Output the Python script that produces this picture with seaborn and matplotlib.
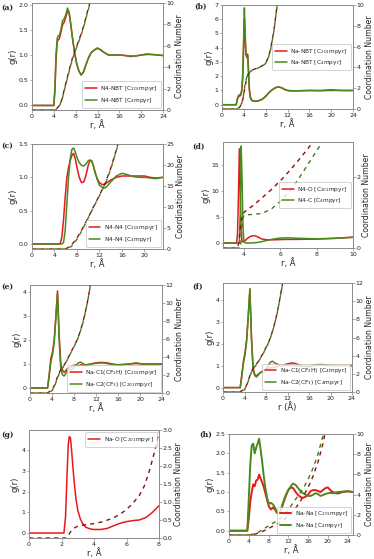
import matplotlib
matplotlib.use("Agg")
import matplotlib.pyplot as plt
import seaborn as sns

sns.set_style("ticks")
plt.rcParams['font.family'] = ['DejaVu Sans']

RED = '#e8191c'
GREEN = '#4a8a1c'
DRED = '#8b1010'
DGREEN = '#3f7d18'

# ---------------- data ----------------
# (a) N4-NBT
a_r = [0, 4.0, 4.2, 4.4, 4.6, 4.8, 5.0, 5.3, 5.6, 5.9, 6.2, 6.5, 6.8, 7.1, 7.4, 7.8, 8.2, 8.6, 9.0, 9.4,
       9.8, 10.3, 10.8, 11.4, 12.0, 12.6, 13.2, 14.0, 15.0, 16.0, 17.0, 18.0, 19.0, 20.0, 21.0, 22.0, 23.0, 24.0]
a_g201 = [0, 0, 0.3, 0.9, 1.25, 1.3, 1.32, 1.45, 1.6, 1.65, 1.75, 1.88, 1.82, 1.6, 1.35, 1.05, 0.82, 0.68, 0.61, 0.66,
          0.78, 0.93, 1.04, 1.1, 1.13, 1.1, 1.05, 1.0, 1.0, 1.0, 0.99, 0.97, 0.98, 1.0, 1.01, 1.01, 1.0, 0.99]
a_g4 = [0, 0, 0.35, 1.0, 1.32, 1.38, 1.38, 1.5, 1.68, 1.72, 1.8, 1.93, 1.85, 1.62, 1.35, 1.05, 0.82, 0.68, 0.6, 0.65,
        0.78, 0.93, 1.04, 1.1, 1.14, 1.1, 1.05, 1.0, 1.0, 1.0, 0.99, 0.98, 0.98, 1.0, 1.02, 1.01, 1.0, 0.99]
a_cn_r = [0, 4.3, 5.0, 5.5, 6.0, 6.5, 7.0, 7.5, 8.0, 8.5, 9.0, 9.5, 10.0, 10.6, 11.0]
a_cn201 = [0, 0, 0.4, 1.0, 2.1, 3.1, 4.1, 5.0, 5.7, 6.4, 7.1, 7.9, 8.9, 10.0, 10.8]
a_cn4 = [0, 0, 0.35, 0.95, 2.0, 3.0, 4.0, 4.9, 5.6, 6.3, 7.0, 7.8, 8.8, 9.9, 10.7]

# (b) Na-NBT
b_r = [0, 2.6, 2.8, 3.0, 3.2, 3.4, 3.6, 3.8, 3.95, 4.1, 4.25, 4.4, 4.55, 4.7, 4.85, 5.0, 5.2, 5.5, 5.8, 6.2,
       6.8, 7.4, 8.0, 8.6, 9.2, 9.8, 10.4, 11.0, 11.6, 12.2, 13.0, 14.0, 16.0, 18.0, 20.0, 22.0, 24.0]
b_g201 = [0, 0, 0.35, 0.55, 0.6, 0.65, 0.9, 1.8, 3.8, 6.0, 4.5, 3.5, 3.4, 3.55, 2.5, 1.2, 0.55, 0.3, 0.27, 0.25,
          0.3, 0.4, 0.6, 0.85, 1.05, 1.2, 1.25, 1.18, 1.05, 0.98, 0.97, 0.98, 1.0, 1.0, 1.05, 1.0, 1.0]
b_g4 = [0, 0, 0.4, 0.65, 0.7, 0.72, 1.0, 2.2, 4.5, 6.8, 5.0, 3.5, 3.3, 3.4, 2.3, 1.0, 0.45, 0.28, 0.25, 0.23,
        0.28, 0.38, 0.58, 0.85, 1.05, 1.2, 1.25, 1.18, 1.05, 1.0, 0.98, 0.98, 1.0, 0.98, 1.0, 1.0, 1.0]
b_cn_r = [0, 2.8, 3.2, 3.6, 3.9, 4.2, 4.5, 4.8, 5.2, 5.6, 6.0, 6.5, 7.0, 7.5, 8.0, 8.5, 8.9, 9.5, 10.1, 10.5]
b_cn201 = [0, 0, 0.15, 0.5, 1.1, 2.1, 2.9, 3.35, 3.6, 3.75, 3.85, 3.95, 4.05, 4.2, 4.4, 5.0, 5.75, 7.5, 10.0, 11.8]
b_cn4 = [0, 0, 0.18, 0.55, 1.2, 2.3, 3.0, 3.4, 3.6, 3.72, 3.82, 3.92, 4.02, 4.17, 4.38, 4.95, 5.7, 7.45, 9.95, 11.7]

# (c) N4-N4
c_r = [0, 5.0, 5.3, 5.6, 5.9, 6.2, 6.5, 6.8, 7.1, 7.4, 7.7, 8.0, 8.4, 8.8, 9.2, 9.6, 10.0, 10.3, 10.6, 10.9,
       11.2, 11.6, 12.0, 12.5, 13.0, 13.5, 14.0, 15.0, 16.0, 17.0, 18.0, 19.0, 20.0, 21.0, 22.0, 23.3]
c_g201 = [0, 0, 0.1, 0.35, 0.7, 1.0, 1.15, 1.25, 1.33, 1.36, 1.28, 1.15, 1.0, 0.92, 0.93, 1.03, 1.18, 1.25, 1.25, 1.18,
          1.08, 0.98, 0.92, 0.89, 0.9, 0.93, 0.96, 1.0, 1.02, 1.02, 1.02, 1.02, 1.02, 1.0, 0.99, 1.0]
c_g4 = [0, 0, 0, 0.02, 0.2, 0.6, 1.0, 1.28, 1.42, 1.44, 1.38, 1.3, 1.22, 1.18, 1.17, 1.2, 1.25, 1.26, 1.25, 1.18,
        1.08, 0.97, 0.88, 0.85, 0.84, 0.88, 0.93, 1.02, 1.06, 1.04, 1.01, 1.0, 1.0, 0.99, 0.98, 1.0]
c_cn_r = [0, 6.0, 7.0, 8.0, 9.0, 10.0, 11.0, 12.0, 13.0, 14.0, 15.0, 15.5]
c_cn201 = [0, 0, 0.9, 2.6, 4.9, 7.5, 10.2, 12.8, 15.6, 19.2, 23.6, 26.0]
c_cn4 = [0, 0, 0.6, 2.3, 4.7, 7.4, 10.1, 12.7, 15.4, 19.0, 23.4, 25.8]

# (d) N4-O / N4-C
d_r201 = [2.85, 3.6, 3.65, 3.7, 3.75, 3.8, 3.85, 3.9, 3.95, 4.05, 4.2, 4.35, 4.5, 4.65, 4.8, 5.0, 5.3, 5.7, 6.2,
          7.0, 8.0, 9.0, 10.0]
d_g201 = [0, 0, 2, 9, 18, 10, 2, 0.3, 0.2, 0.4, 0.9, 1.25, 1.4, 1.35, 1.1, 0.75, 0.6, 0.62, 0.68, 0.7, 0.75, 0.9, 1.1]
d_r4 = [2.85, 3.75, 3.8, 3.85, 3.9, 3.95, 4.0, 4.1, 4.3, 4.6, 4.9, 5.2, 5.6, 6.0, 6.4, 7.0, 8.0, 9.0, 10.0]
d_g4 = [0, 0, 6, 18.5, 12, 3, 0.3, 0, 0, 0.05, 0.2, 0.45, 0.75, 0.95, 1.0, 0.9, 0.8, 0.9, 1.1]
d_cn201_r = [2.85, 3.65, 3.72, 3.78, 3.85, 3.95, 4.1, 4.5, 5.0, 5.5, 6.0, 6.5, 7.0, 7.5, 8.0]
d_cn201 = [0, 0, 0.15, 0.45, 0.8, 0.98, 1.05, 1.2, 1.42, 1.65, 1.9, 2.18, 2.48, 2.8, 3.15]
d_cn4_r = [2.85, 3.8, 3.85, 3.9, 3.95, 4.0, 4.1, 4.5, 5.0, 5.5, 6.0, 6.5, 7.0, 7.5, 8.0, 8.5]
d_cn4 = [0, 0, 0.25, 0.6, 0.85, 0.92, 0.94, 0.95, 0.98, 1.1, 1.32, 1.6, 1.95, 2.35, 2.75, 3.15]

# (e) Na-C1 / Na-C2 [C201mpyr]
e_r = [0, 3.2, 3.5, 3.8, 4.1, 4.4, 4.7, 5.0, 5.3, 5.6, 5.9, 6.2, 6.5, 6.8, 7.1, 7.4, 7.7, 8.0, 8.4, 8.8,
       9.2, 9.6, 10.0, 10.5, 11.0, 12.0, 13.0, 14.0, 15.0, 16.0, 17.0, 18.0, 19.3, 20.5, 22.0, 24.0]
e_g1 = [0, 0, 0.6, 1.25, 1.5, 2.0, 3.0, 4.05, 2.2, 1.0, 0.75, 0.65, 0.72, 0.8, 0.85, 0.85, 0.9, 0.95, 0.95, 0.92,
        0.97, 0.95, 0.92, 0.96, 1.0, 1.05, 1.07, 1.05, 1.0, 0.97, 0.98, 1.0, 1.02, 1.0, 1.0, 1.0]
e_g2 = [0, 0, 0.5, 1.1, 1.4, 1.9, 2.9, 3.95, 2.0, 0.8, 0.55, 0.5, 0.6, 0.75, 0.82, 0.75, 0.78, 0.85, 0.95, 1.05,
        1.08, 1.02, 0.97, 0.98, 1.0, 1.03, 1.05, 1.02, 0.98, 0.96, 0.98, 1.0, 1.05, 1.0, 1.0, 1.0]
e_cn_r = [0, 3.1, 4.0, 4.5, 5.0, 5.5, 6.0, 6.5, 7.0, 7.5, 8.0, 8.5, 9.0, 9.5, 10.0, 10.5, 11.0, 11.3]
e_cn1 = [0, 0, 0.3, 0.9, 1.8, 2.5, 2.9, 3.4, 4.0, 4.6, 5.2, 5.8, 6.6, 7.6, 8.8, 10.3, 12.1, 13.2]
e_cn2 = [0, 0, 0.25, 0.8, 1.7, 2.4, 2.85, 3.35, 3.95, 4.55, 5.15, 5.75, 6.55, 7.55, 8.75, 10.25, 12.0, 13.1]

# (f) Na-C1 / Na-C2 [C4mpyr]
f_r = e_r
f_g1 = [0, 0, 0.6, 1.2, 1.6, 2.2, 3.3, 4.45, 2.3, 0.9, 0.6, 0.52, 0.6, 0.65, 0.7, 0.75, 0.8, 0.85, 0.88, 0.9,
        0.92, 0.93, 0.95, 0.98, 1.0, 1.08, 1.12, 1.05, 0.97, 0.95, 1.0, 1.02, 1.0, 1.0, 1.0, 1.0]
f_g2 = [0, 0, 0.5, 1.1, 1.5, 2.1, 3.2, 4.5, 2.2, 0.8, 0.55, 0.48, 0.55, 0.65, 0.72, 0.7, 0.72, 0.85, 1.0, 1.15,
        1.2, 1.12, 1.08, 1.02, 1.0, 1.0, 1.0, 0.98, 0.96, 0.98, 1.03, 1.05, 1.03, 1.0, 1.0, 1.0]
f_cn_r = e_cn_r
f_cn1 = [0, 0, 0.3, 0.9, 1.8, 2.5, 2.9, 3.3, 3.8, 4.3, 4.9, 5.5, 6.3, 7.3, 8.5, 10.0, 11.7, 12.8]
f_cn2 = [0, 0, 0.25, 0.85, 1.75, 2.45, 2.85, 3.25, 3.75, 4.25, 4.85, 5.45, 6.25, 7.25, 8.45, 9.95, 11.6, 12.7]

# (g) Na-O
g_r = [0, 2.15, 2.25, 2.35, 2.42, 2.48, 2.55, 2.62, 2.7, 2.8, 2.9, 3.0, 3.15, 3.3, 3.5, 3.75, 4.0, 4.4, 4.8,
       5.2, 5.6, 6.0, 6.4, 6.8, 7.2, 7.6, 8.0]
g_g = [0, 0, 0.8, 3.0, 4.3, 4.65, 4.6, 4.0, 3.2, 2.3, 1.6, 1.1, 0.7, 0.45, 0.28, 0.2, 0.17, 0.17, 0.22,
       0.35, 0.47, 0.55, 0.6, 0.63, 0.75, 1.0, 1.32]
g_cn_r = [0, 2.3, 2.45, 2.6, 2.8, 3.0, 3.5, 4.0, 4.6, 5.2, 5.6, 6.0, 6.4, 6.8, 7.1, 7.4, 7.7, 8.0]
g_cn = [0, 0, 0.1, 0.2, 0.28, 0.33, 0.37, 0.4, 0.46, 0.56, 0.66, 0.79, 0.97, 1.19, 1.45, 1.85, 2.35, 2.95]

# (h) Na-Na
h_r = [0, 3.7, 4.0, 4.3, 4.6, 4.9, 5.2, 5.5, 5.8, 6.1, 6.4, 6.7, 7.0, 7.3, 7.7, 8.1, 8.5, 8.9, 9.3, 9.7,
       10.1, 10.5, 11.0, 11.5, 12.0, 12.5, 13.0, 13.5, 14.0, 14.5, 15.0, 15.5, 16.0, 16.5, 17.0, 17.5, 18.0,
       18.5, 19.0, 19.5, 20.0, 20.5, 21.0, 22.0, 23.0, 24.0, 25.1]
h_g201 = [0, 0, 0.3, 0.75, 1.0, 1.2, 1.15, 1.3, 1.32, 1.45, 1.35, 1.25, 1.15, 1.0, 0.8, 0.62, 0.55, 0.6, 0.55, 0.46,
          0.45, 0.52, 0.72, 0.9, 1.05, 1.12, 1.1, 1.0, 0.92, 0.87, 0.85, 0.88, 0.93, 1.02, 1.05, 1.05, 1.03,
          1.0, 1.05, 1.1, 1.12, 1.05, 1.0, 0.96, 1.0, 1.02, 1.0]
h_g4 = [0, 0, 0.8, 1.7, 2.2, 2.25, 2.0, 2.15, 2.25, 2.38, 2.1, 1.8, 1.45, 1.15, 0.85, 0.7, 0.72, 0.68, 0.6, 0.48,
        0.45, 0.55, 0.75, 0.92, 1.05, 1.15, 1.22, 1.18, 1.1, 1.02, 0.97, 0.93, 0.9, 0.9, 0.93, 0.97, 0.95,
        0.9, 0.92, 0.95, 0.97, 0.98, 0.97, 1.0, 1.01, 1.02, 1.0]
h_cn_r = [0, 4, 5, 6, 7, 8, 9, 10, 11, 12, 13, 14, 15, 16, 17, 18, 19, 19.5, 20]
h_cn201 = [0, 0, 0.05, 0.2, 0.4, 0.65, 0.9, 1.15, 1.45, 1.9, 2.4, 3.0, 3.8, 4.7, 5.8, 7.2, 9.0, 10.2, 11.5]
h_cn4 = [0, 0, 0.1, 0.3, 0.6, 0.9, 1.2, 1.5, 1.9, 2.5, 3.2, 3.9, 4.6, 5.5, 6.6, 8.0, 9.8, 11.0, 12.2]

LAB201 = '[C$_{201}$mpyr]'
LAB4 = '[C$_4$mpyr]'

# ---------------- layout ----------------
W, H = 374, 559
fig = plt.figure(figsize=(W / 100, H / 100), dpi=100)


def rect(x0, y0, x1, y1):
    return [x0 / W, 1 - y1 / H, (x1 - x0) / W, (y1 - y0) / H]


SPINE = '#8a8a8a'


def style(ax):
    for s in ax.spines.values():
        s.set_visible(True)
        s.set_color(SPINE)
        s.set_linewidth(0.6)
    ax.tick_params(labelsize=4.5, length=1.8, width=0.5, pad=0.8, color=SPINE, labelcolor='#222222')


def panel(box, tag, tagpos, g_series, cn_series, xlim, ylim, yticks, xticks, cnlim, cnticks,
          legloc, xlabel='r, Å', cnfmt=None, lw=1.1, legpad=0.4):
    ax = fig.add_axes(rect(*box))
    ax2 = ax.twinx()
    for (r, g, lab, col) in g_series:
        sns.lineplot(x=r, y=g, ax=ax, color=col, lw=lw, label=lab, estimator=None, sort=False)
    for (r, cn, col, off) in cn_series:
        sns.lineplot(x=r, y=cn, ax=ax2, color=col, lw=1.0, estimator=None, sort=False,
                     linestyle=(off, (3, 3)), legend=False)
    ax.set_xlim(*xlim)
    ax.set_ylim(*ylim)
    ax.set_yticks(yticks)
    ax.set_xticks(xticks)
    ax2.set_ylim(*cnlim)
    ax2.set_yticks(cnticks)
    if cnfmt:
        ax2.set_yticklabels([cnfmt.format(v) for v in cnticks])
    ax.set_xlabel(xlabel, fontsize=6, labelpad=1)
    ax.set_ylabel('g(r)', fontsize=6, labelpad=1)
    ax2.set_ylabel('Coordination Number', fontsize=5.6, labelpad=0.8)
    style(ax)
    style(ax2)
    h, l = ax.get_legend_handles_labels()
    if ax.get_legend() is not None:
        ax.get_legend().remove()
    leg = ax2.legend(h, l, loc=legloc, fontsize=4.2, handlelength=2.0, handletextpad=0.6,
                     labelspacing=0.5, borderpad=0.5, borderaxespad=legpad, frameon=True, fancybox=True)
    leg.get_frame().set_edgecolor('#b0b0b0')
    leg.get_frame().set_linewidth(0.5)
    fig.text(tagpos[0] / W, 1 - tagpos[1] / H, tag, fontsize=5.5, fontweight='bold',
             family='DejaVu Serif', ha='left', va='center')
    return ax, ax2


panel((32, 3, 163, 110), '(a)', (1, 8),
      [(a_r, a_g201, 'N4-NBT ' + LAB201, RED), (a_r, a_g4, 'N4-NBT ' + LAB4, GREEN)],
      [(a_cn_r, a_cn201, DRED, 0), (a_cn_r, a_cn4, DGREEN, 3)],
      (0, 24), (-0.09, 2.03), [0, 0.5, 1.0, 1.5, 2.0], range(0, 25, 4), (0, 10), range(0, 11, 2),
      'lower right')

panel((222, 5, 353, 109), '(b)', (194, 7),
      [(b_r, b_g201, 'Na-NBT ' + LAB201, RED), (b_r, b_g4, 'Na-NBT ' + LAB4, GREEN)],
      [(b_cn_r, b_cn201, DRED, 0), (b_cn_r, b_cn4, DGREEN, 3)],
      (0, 24), (-0.3, 7.0), range(0, 8), range(0, 25, 4), (0, 10), range(0, 11, 2),
      'center right')

panel((32, 144, 163, 249), '(c)', (1, 146),
      [(c_r, c_g201, 'N4-N4 ' + LAB201, RED), (c_r, c_g4, 'N4-N4 ' + LAB4, GREEN)],
      [(c_cn_r, c_cn201, DRED, 0), (c_cn_r, c_cn4, DGREEN, 3)],
      (0, 23.3), (-0.075, 1.5), [0, 0.5, 1.0, 1.5], range(0, 21, 4), (0, 25), range(0, 26, 5),
      'lower right')

panel((223, 142, 353, 248), '(d)', (192, 147),
      [(d_r201, d_g201, 'N4-O ' + LAB201, RED), (d_r4, d_g4, 'N4-C ' + LAB4, GREEN)],
      [(d_cn201_r, d_cn201, DRED, 0), (d_cn4_r, d_cn4, DGREEN, 3)],
      (2.85, 10), (-0.95, 19.3), [0, 5, 10, 15], [4, 6, 8, 10], (0, 3.0), [0, 2],
      'center right')

panel((30, 285, 162, 393), '(e)', (1, 287),
      [(e_r, e_g1, 'Na-C1(CF$_2$H) ' + LAB201, RED), (e_r, e_g2, 'Na-C2(CF$_3$) ' + LAB201, GREEN)],
      [(e_cn_r, e_cn1, DRED, 0), (e_cn_r, e_cn2, DGREEN, 3)],
      (0, 24), (-0.21, 4.3), range(0, 5), range(0, 25, 4), (0, 12), range(0, 13, 2),
      'lower right', legpad=0.15)

panel((223, 283, 352, 392), '(f)', (192, 287),
      [(f_r, f_g1, 'Na-C1(CF$_2$H) ' + LAB4, RED), (f_r, f_g2, 'Na-C2(CF$_3$) ' + LAB4, GREEN)],
      [(f_cn_r, f_cn1, DRED, 0), (f_cn_r, f_cn2, DGREEN, 3)],
      (0, 24), (-0.2, 4.75), range(0, 5), range(0, 25, 4), (0, 12), range(0, 13, 2),
      'lower right', xlabel='r (Å)', legpad=0.3)

panel((29, 430, 159, 538), '(g)', (1, 435),
      [(g_r, g_g, 'Na-O ' + LAB201, RED)],
      [(g_cn_r, g_cn, DRED, 0)],
      (0, 8), (-0.24, 4.97), range(0, 5), [0, 2, 4, 6, 8], (0, 3.0), [0, 0.5, 1.0, 1.5, 2.0, 2.5, 3.0],
      'upper right', cnfmt='{:.1f}')

panel((229, 434, 353, 535), '(h)', (199, 435),
      [(h_r, h_g201, 'Na-Na ' + LAB201, RED), (h_r, h_g4, 'Na-Na ' + LAB4, GREEN)],
      [(h_cn_r, h_cn201, DRED, 0), (h_cn_r, h_cn4, DGREEN, 3)],
      (0, 25.1), (-0.11, 2.5), [0, 0.5, 1.0, 1.5, 2.0, 2.5], range(0, 25, 4), (0, 10), range(0, 11, 2),
      'lower right', lw=1.4, legpad=0.3)

fig.savefig('out.png', dpi=100)
